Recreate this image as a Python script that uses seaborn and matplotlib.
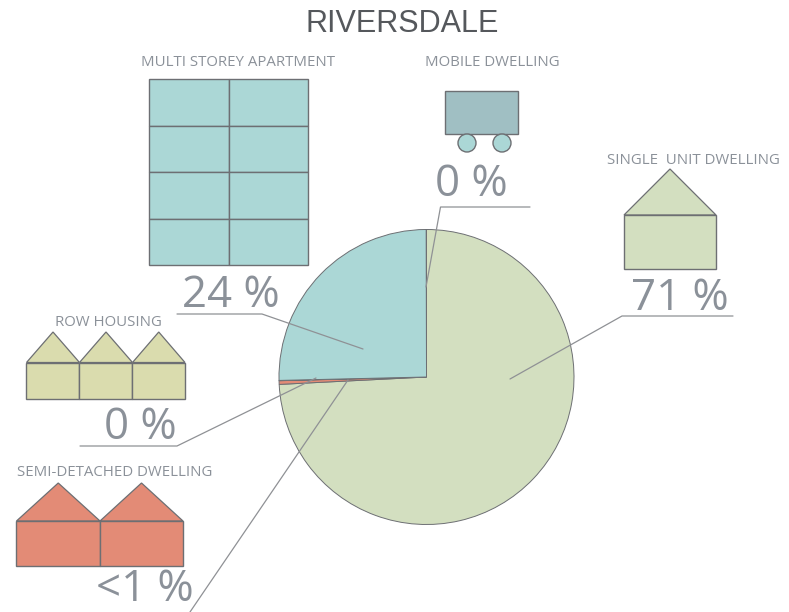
import matplotlib
matplotlib.use("Agg")
import matplotlib.pyplot as plt
from matplotlib.patches import Polygon, Rectangle, Circle
import seaborn as sns

W, H = 789, 612
title = "RIVERSDALE"
categories = ["SINGLE  UNIT DWELLING", "SEMI-DETACHED DWELLING", "ROW HOUSING",
              "MULTI STOREY APARTMENT", "MOBILE DWELLING"]
pie_shares = [74.2, 0.4, 0.03, 25.35, 0.02]
pct_labels = ["71 %", "<1 %", "0 %", "24 %", "0 %"]
colors = ["#d3dfc0", "#e38b76", "#dadcae", "#abd7d6", "#a0bfc3"]

sns.set_theme(style="white")
plt.rcParams["font.family"] = ["Open Sans", "DejaVu Sans"]
palette = sns.color_palette(colors)
EDGE = "#6d6f73"
TXT = "#8b9199"
LEAD = "#8f9195"

fig = plt.figure(figsize=(W / 100, H / 100), dpi=100, facecolor="white")

# pie axes (pixel box)
cx, cy, r = 426.5, 377, 147.5
pax = fig.add_axes([(cx - r) / W, 1 - (cy + r) / H, 2 * r / W, 2 * r / H])
pax.pie(pie_shares, colors=palette, startangle=90, counterclock=False, radius=1,
        wedgeprops=dict(edgecolor=EDGE, linewidth=0.7))
pax.set_xlim(-1, 1); pax.set_ylim(-1, 1)
pax.set_aspect("equal")
pax.axis("off")
for p in pax.patches:
    p.set_clip_on(False)

# overlay in pixel coordinates
ax = fig.add_axes([0, 0, 1, 1], zorder=5)
ax.set_xlim(0, W); ax.set_ylim(H, 0)
ax.axis("off")
ax.patch.set_alpha(0)

def rect(x0, y0, x1, y1, c):
    ax.add_patch(Rectangle((x0, y0), x1 - x0, y1 - y0, fc=c, ec=EDGE, lw=1.0))

def house(x0, x1, apex, eave, bottom, c):
    ax.add_patch(Polygon([(x0, eave), ((x0 + x1) / 2, apex), (x1, eave)], closed=True, fc=c, ec=EDGE, lw=0.9))
    rect(x0, eave, x1, bottom, c)

# multi storey
for x0, x1 in [(149, 229), (229, 308)]:
    for y0, y1 in [(79, 126), (126, 172), (172, 219), (219, 265)]:
        rect(x0, y0, x1, y1, colors[3])
# mobile
rect(445, 91, 518, 134, colors[4])
for x in (467, 502):
    ax.add_patch(Circle((x, 143), 9, fc=colors[3], ec=EDGE, lw=1.0))
# single
house(624, 716, 169, 215, 269, colors[0])
# row
for x0, x1 in [(26.5, 79.5), (79.5, 132.5), (132.5, 185)]:
    house(x0, x1, 332, 362.5, 399, colors[2])
# semi
for x0, x1 in [(16.5, 100), (100, 183)]:
    house(x0, x1, 483, 521, 566, colors[1])

# leaders
leaders = [
    [(510, 379), (622, 316), (733, 316)],
    [(426, 287), (440.5, 207), (530, 207)],
    [(363, 349), (262, 314), (177, 314)],
    [(316, 378), (177, 446), (80, 446)],
    [(348, 380), (190, 612)],
]
for pts in leaders:
    ax.plot(*zip(*pts), color=LEAD, lw=0.9, solid_joinstyle="miter", clip_on=False)

ax.text(402, 24, title, family="Liberation Sans", fontsize=22, color="#55585c", ha="center", va="center")

label_pos = [(693, 160), (115, 473), (108, 322), (238.5, 63), (492, 63)]
for s, (x, y) in zip(categories, label_pos):
    ax.text(x, y, s, fontsize=10.8, color=TXT, ha="center", va="center")
pct_pos = [(680, 299), (145, 590), (140, 428), (231, 296), (471, 185)]
for s, (x, y) in zip(pct_labels, pct_pos):
    ax.text(x, y, s, fontsize=31.5, color=TXT, ha="center", va="center")

fig.savefig("out.png", dpi=100, facecolor="white")
